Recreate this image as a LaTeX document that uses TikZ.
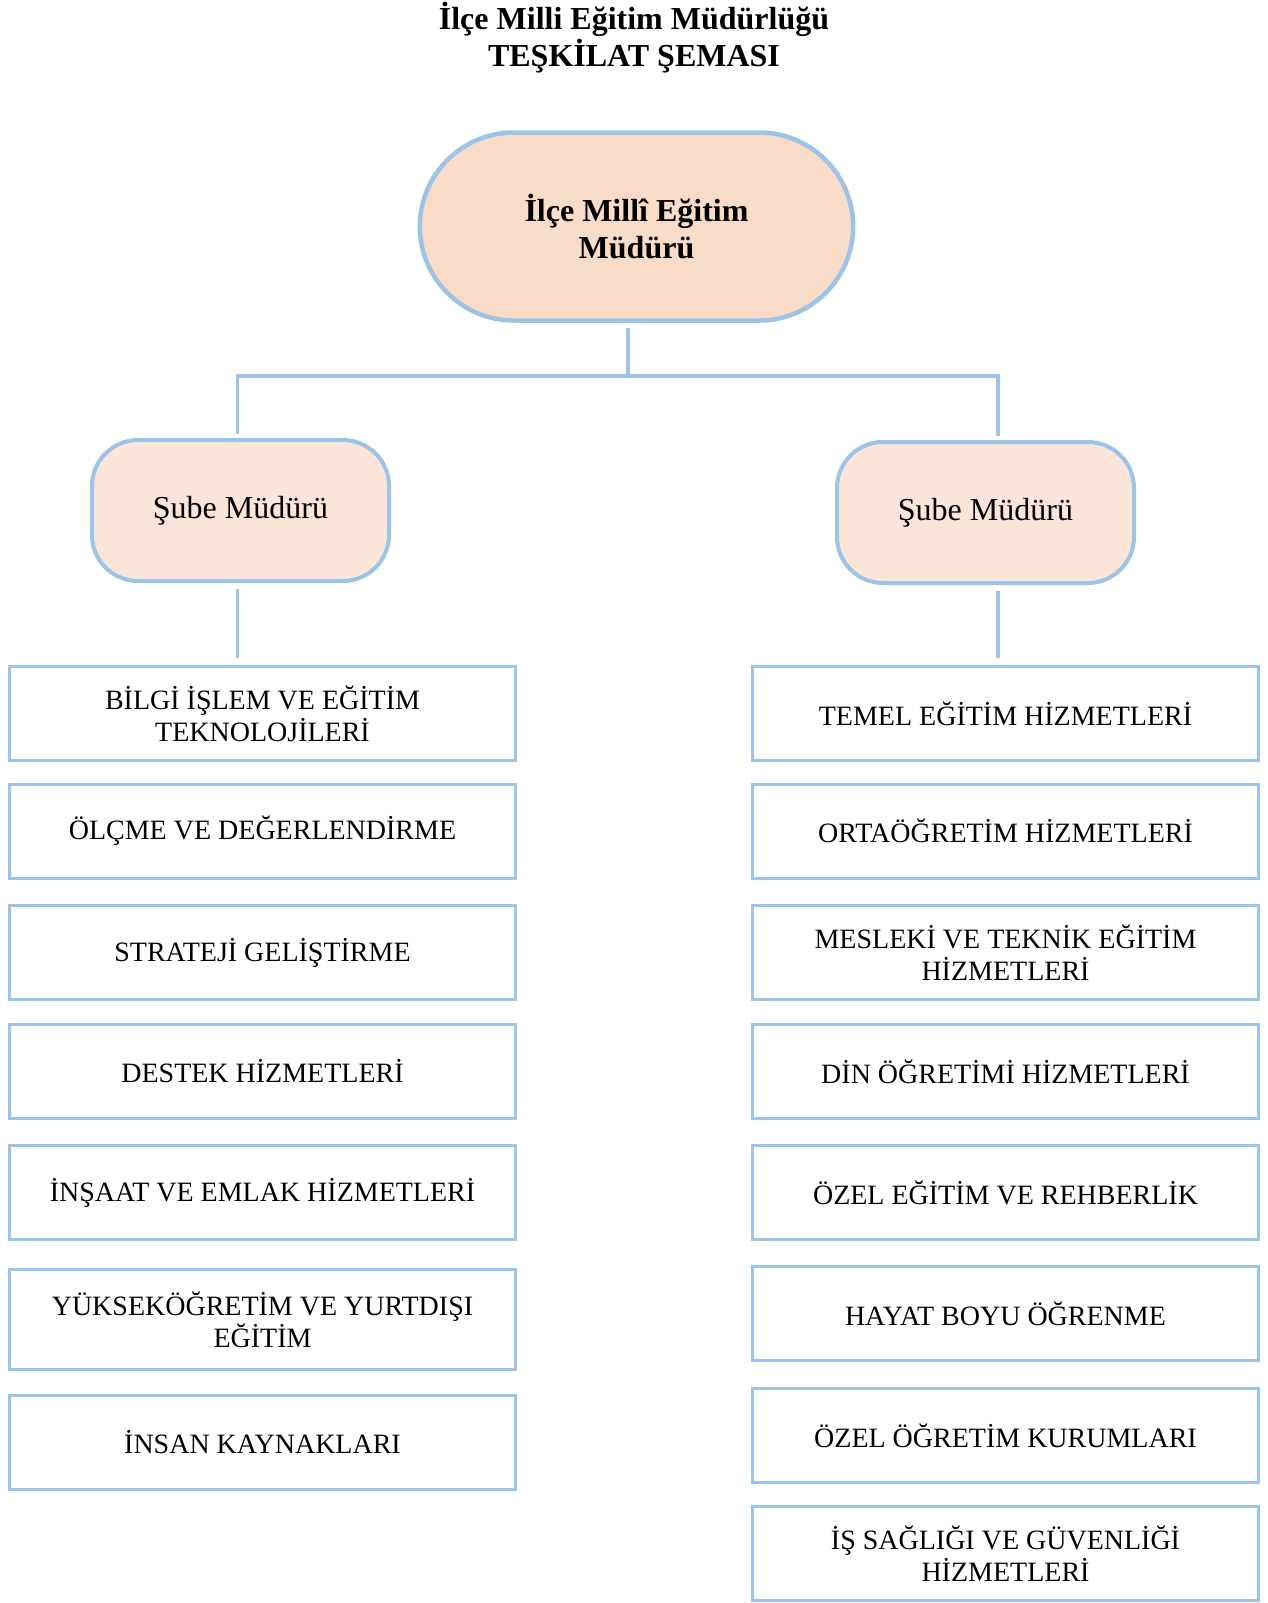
\documentclass[tikz,border=0pt]{standalone}
\usepackage{fontspec}
\setmainfont{Liberation Serif}
\usetikzlibrary{shapes.misc, positioning}
\definecolor{lineblue}{HTML}{9DC3E6}
\definecolor{peach}{HTML}{F9DCC8}
\definecolor{lightpeach}{HTML}{FAE5D8}

\tikzset{
  chiefbox/.style={rounded rectangle, draw=lineblue, fill=peach, line width=4.5pt,
    minimum width=440pt, minimum height=188pt, align=center,
    font=\bfseries\fontsize{32}{37}\selectfont},
  branchbox/.style={draw=lineblue, fill=lightpeach, line width=4pt, rounded corners=46pt,
    minimum width=297pt, minimum height=141pt, font=\fontsize{32}{36}\selectfont},
  unitbox/.style={draw=lineblue, line width=3pt, minimum width=506pt, minimum height=94pt,
    align=center, font=\fontsize{28}{32}\selectfont},
  conn/.style={draw=lineblue, line width=3.5pt}
}

\begin{document}
\begin{tikzpicture}[x=1pt, y=-1pt]
  \useasboundingbox (0,0) rectangle (1267,1603);
  % title
  \node[align=center, font=\bfseries\fontsize{32}{37}\selectfont] (title) at (634,38)
    {İlçe Milli Eğitim Müdürlüğü\\TEŞKİLAT ŞEMASI};
  % head and branches
  \node[chiefbox] (top) at (636.5,226.5) {İlçe Millî Eğitim\\Müdürü};
  \node[branchbox] (sl) at (240.5,510.5) {Şube Müdürü};
  \node[branchbox] (sr) at (985.5,512.5) {Şube Müdürü};
  % units
  \foreach \i/\y/\h/\lbl in {1/713.5/94/{BİLGİ İŞLEM VE EĞİTİM\\TEKNOLOJİLERİ},
      2/831/94/{ÖLÇME VE DEĞERLENDİRME}, 3/952.5/94/{STRATEJİ GELİŞTİRME},
      4/1071.5/94/{DESTEK HİZMETLERİ}, 5/1192.5/94/{İNŞAAT VE EMLAK HİZMETLERİ},
      6/1319.5/100/{YÜKSEKÖĞRETİM VE YURTDIŞI\\EĞİTİM}, 7/1442.5/94/{İNSAN KAYNAKLARI}} {
    \node[unitbox, minimum height=\h pt] (l\i) at (262.5,\y) {\lbl};
  }
  \foreach \i/\y/\lbl in {1/713.5/{TEMEL EĞİTİM HİZMETLERİ},
      2/831/{ORTAÖĞRETİM HİZMETLERİ}, 3/952.5/{MESLEKİ VE TEKNİK EĞİTİM\\HİZMETLERİ},
      4/1071.5/{DİN ÖĞRETİMİ HİZMETLERİ}, 5/1192.5/{ÖZEL EĞİTİM VE REHBERLİK},
      6/1313.5/{HAYAT BOYU ÖĞRENME}, 7/1435.5/{ÖZEL ÖĞRETİM KURUMLARI},
      8/1553.5/{İŞ SAĞLIĞI VE GÜVENLİĞİ\\HİZMETLERİ}} {
    \node[unitbox] (r\i) at (1005.5,\y) {\lbl};
  }
  % connectors
  \coordinate (jn) at (628,376);
  \draw[conn] ([yshift=-5pt]top.south -| jn) -- (jn);
  \draw[conn] ([xshift=-3pt,yshift=4pt]sl.north) |- (jn) -| ([xshift=12.5pt,yshift=4pt]sr.north);
  \draw[conn, shorten <=6pt, shorten >=7pt] ([xshift=-3pt]sl.south) -- ([xshift=-3pt]sl.south |- l1.north);
  \draw[conn, shorten <=6pt, shorten >=7pt] ([xshift=12.5pt]sr.south) -- ([xshift=12.5pt]sr.south |- r1.north);
\end{tikzpicture}
\end{document}
